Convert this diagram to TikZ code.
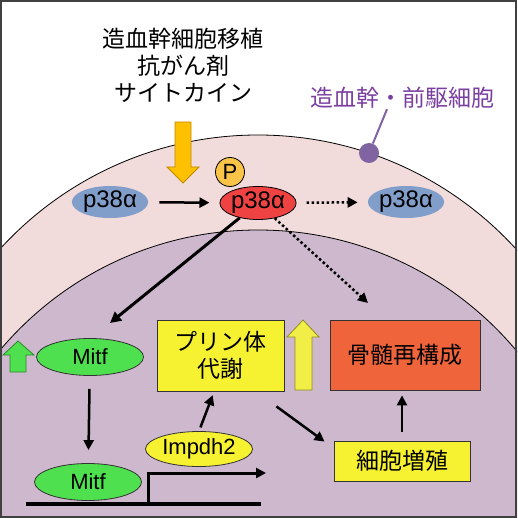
\documentclass[tikz,border=0pt]{standalone}
\usepackage{fontspec}
\setmainfont{Liberation Sans}
\newfontfamily\jp{Noto Sans CJK JP}
\usetikzlibrary{arrows.meta,calc,shapes.geometric}
\definecolor{pinkbg}{HTML}{F2DCDB}
\definecolor{purplebg}{HTML}{CDB8CE}
\definecolor{purptext}{HTML}{7A3FA0}
\definecolor{dotc}{HTML}{8064A2}
\definecolor{bluec}{HTML}{819DC9}
\definecolor{redc}{HTML}{EF4242}
\definecolor{pcol}{HTML}{F9C448}
\definecolor{orangec}{HTML}{FFC000}
\definecolor{orangeo}{HTML}{C08A00}
\definecolor{greenc}{HTML}{4EE04E}
\definecolor{greeno}{HTML}{2A8A2A}
\definecolor{yellowc}{HTML}{F6F232}
\definecolor{yarrow}{HTML}{F2EE48}
\definecolor{yarrowo}{HTML}{8F8C20}
\definecolor{boxred}{HTML}{F0643C}
\definecolor{framec}{HTML}{404040}
\begin{document}
\begin{tikzpicture}[x=1pt,y=-1pt,
  jpf/.style={font=\jp\fontsize{23}{27}\selectfont},
  latf/.style={font=\fontsize{22}{27}\selectfont},
  pf/.style={font=\fontsize{24}{27}\selectfont},
  blueell/.style={ellipse, fill=bluec, minimum width=75pt, minimum height=32pt, inner sep=0pt, pf},
  greenell/.style={ellipse, fill=greenc, draw=black!80, line width=0.8pt, minimum width=107pt, minimum height=37pt, inner sep=0pt, latf},
  ybox/.style={rectangle, fill=yellowc, draw=black!80, line width=0.8pt, inner sep=0pt, jpf, align=center},
  arr/.style={line width=2.5pt, -{Triangle[length=10pt,width=10pt]}},
  darr/.style={line width=2.5pt, dash pattern=on 2.5pt off 2.5pt, -{Triangle[length=10pt,width=10pt]}}
]
\useasboundingbox (0,0) rectangle (517,518);
\begin{scope}
  \clip (0,0) rectangle (517,518);
  \fill[white] (0,0) rectangle (517,518);
  \filldraw[fill=pinkbg, draw=black, line width=0.8pt] (258,484) circle (349);
  \filldraw[fill=purplebg, draw=black, line width=0.8pt] (258,567) circle (337);
\end{scope}
\draw[framec, line width=2pt] (1,1) rectangle (516,517);

% texts
\node[jpf, align=center] (title) at (183,65) {造血幹細胞移植\\抗がん剤\\サイトカイン};
\node[jpf, text=purptext] (stem) at (402,98) {造血幹・前駆細胞};
\node[circle, fill=dotc, minimum size=20pt, inner sep=0pt] (dot) at (369,153) {};
\draw[dotc, line width=2pt] ([xshift=-15pt,yshift=3pt]stem.south) -- (dot);

% orange block arrow
\filldraw[fill=orangec, draw=orangeo, line width=0.8pt]
  (175,122) -- (191,122) -- (191,167) -- (199,167) -- (183,183) -- (167,167) -- (175,167) -- cycle;

% p38 nodes
\node[blueell] (pa) at (110,202) {p38α};
\node[ellipse, fill=redc, draw=black, line width=0.8pt, minimum width=75pt, minimum height=33pt, inner sep=0pt, pf] (pr) at (258,203) {p38α};
\node[circle, fill=pcol, draw=black, line width=0.8pt, minimum size=29pt, inner sep=0pt, latf] (pp) at (230,172) {P};
\node[blueell] (pb) at (406,202) {p38α};

\draw[arr, shorten <=11pt, shorten >=10pt] (pa) -- (pr);
\draw[darr, shorten <=10pt, shorten >=10pt] (pr) -- (pb);

% lower nodes
\node[greenell] (m1) at (90,357) {Mitf};
\node[greenell] (m2) at (88,482) {Mitf};
\node[ellipse, fill=yellowc, draw=black!80, line width=0.8pt, minimum width=107pt, minimum height=35pt, inner sep=0pt, latf] (imp) at (199,449) {Impdh2};
\node[ybox, minimum width=127pt, minimum height=71pt] (pur) at (220.5,355.5) {プリン体\\代謝};
\node[rectangle, fill=boxred, draw=black!80, line width=0.8pt, minimum width=150pt, minimum height=70pt, inner sep=0pt, jpf] (bm) at (405,355) {骨髄再構成};
\node[ybox, minimum width=136pt, minimum height=40pt] (cell) at (402,461) {細胞増殖};

\coordinate (mitfend) at (110,323);
\coordinate (dotend) at (368,303);
\draw[line width=3pt, -{Triangle[length=11pt,width=11pt]}] (pr) -- (mitfend);
\draw[darr] (pr) -- (dotend);

% green up arrow
\filldraw[fill=greenc, draw=greeno, line width=0.8pt]
  (10,372) -- (26,372) -- (26,355) -- (34,355) -- (18,341) -- (3,355) -- (10,355) -- cycle;
% yellow up arrow
\filldraw[fill=yarrow, draw=yarrowo, line width=0.8pt]
  (295,390) -- (312,390) -- (312,337) -- (319,337) -- (303,320) -- (287,337) -- (295,337) -- cycle;

\draw[arr, shorten <=13pt, shorten >=13pt] (m1) -- (m2);
\draw[arr, shorten <=4pt, shorten >=4pt] (imp.north) -- (pur.-100);
\draw[arr] ([xshift=-8pt,yshift=-15pt]pur.south east) -- ([xshift=-9pt,yshift=-1pt]cell.north west);
\draw[arr, shorten <=9pt, shorten >=5pt] (cell.north) -- (cell.north |- bm.south);

% DNA
\coordinate (dnaL) at (26,504);
\coordinate (dnaR) at (261,504);
\coordinate (prom) at (148,504);
\coordinate (promtip) at (266,473);
\draw[line width=4pt] (dnaL) -- (dnaR);
\draw[line width=3pt, -{Triangle[length=10pt,width=10pt]}] (prom) |- (promtip);
\end{tikzpicture}
\end{document}
